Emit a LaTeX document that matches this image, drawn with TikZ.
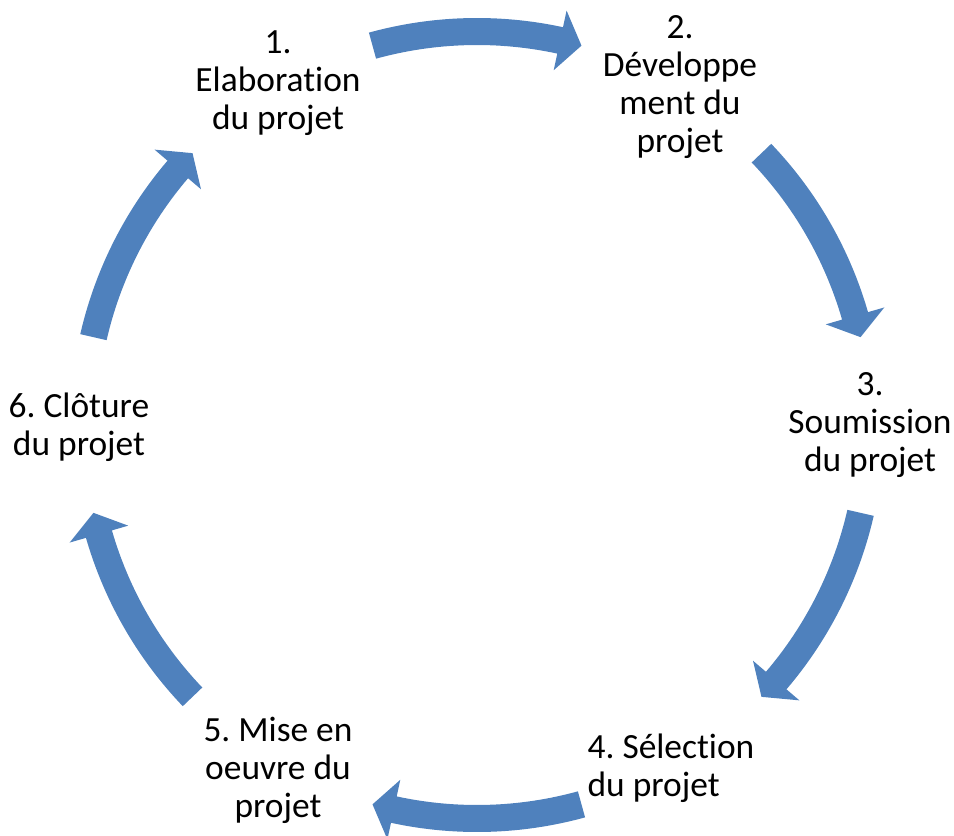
\documentclass[tikz,border=0pt]{standalone}
\usepackage{fontspec}
\setmainfont{Carlito}[Ligatures=CommonOff]
\definecolor{cycblue}{HTML}{4F81BD}
\tikzset{
  steptext/.style={align=center, font=\fontsize{17.7}{19}\selectfont, inner sep=0pt},
  cycarrow/.style={fill=cycblue, draw=none}
}
\frenchspacing
\begin{document}
\begin{tikzpicture}[x=0.5pt, y=0.5pt]
\useasboundingbox (-477,-411) rectangle (477,425);
% curved arrows between the steps
\foreach \m in {90,28.3,-28.3,-90,-151.7,151.7}
{
    \pgfmathsetmacro{\s}{\m+15.4}
    \pgfmathsetmacro{\e}{\m-15.4}
    \pgfmathsetmacro{\b}{\e+3.2}
    \fill[cycarrow](\s:407) arc[start angle=\s, end angle=\b, radius=407]
        --(\b:424)--(\e:393.5)--(\b:363)--(\b:380)
        arc[start angle=\b, end angle=\s, radius=380]--cycle;
}
\node[steptext] (elab) at (-199,342) {1.\\Elaboration\\du projet};
\node[steptext] (dev) at (203,338) {2.\\Développe\\ment du\\projet};
\node[steptext] (soum) at (393,0) {3.\\Soumission\\du projet};
\node[steptext, align=left] (sel) at (194,-343) {4. Sélection\\du projet};
\node[steptext] (mise) at (-199,-345) {5. Mise en\\oeuvre du\\projet};
\node[steptext] (clot) at (-398,-2) {6. Clôture\\du projet};
\end{tikzpicture}
\end{document}
